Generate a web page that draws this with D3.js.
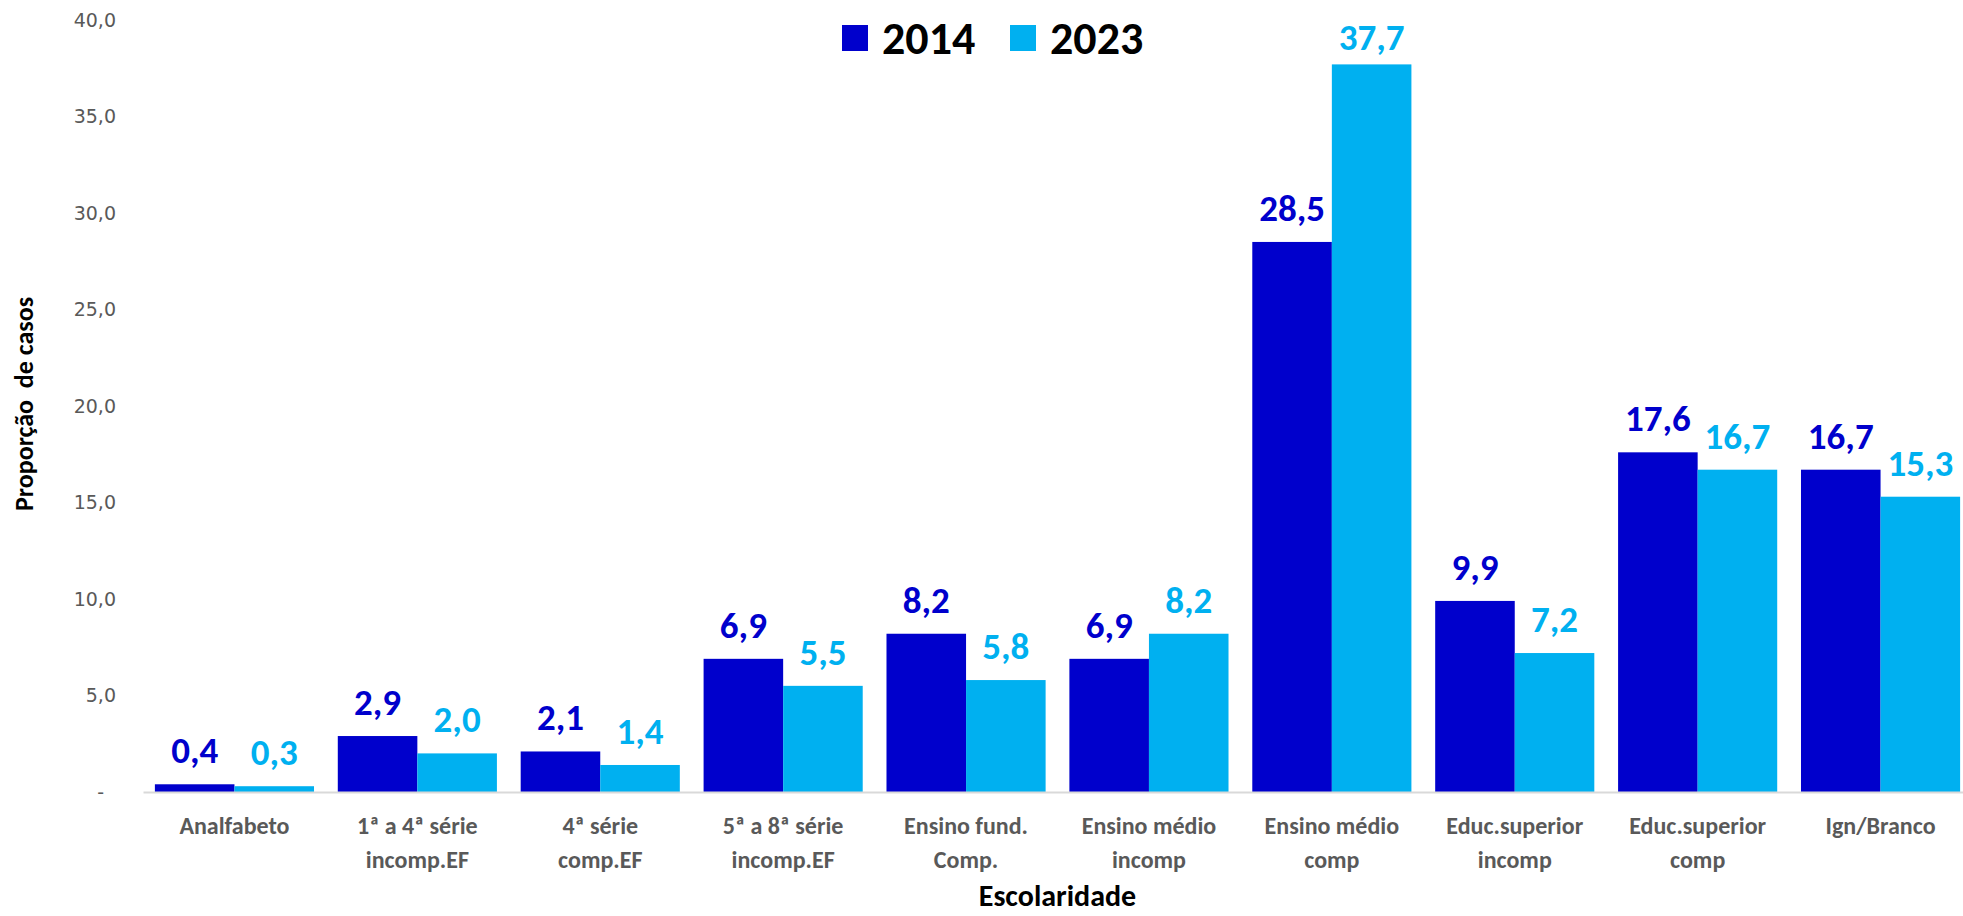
<!DOCTYPE html>
<html>
	<head>
		<meta charset="utf-8">
		<script type="text/javascript" src="https://d3js.org/d3.v7.min.js"></script>
		<style type="text/css">
			body {
				margin: 0;
				background: #ffffff;
			}
			.ytick text {
				font-family: "DejaVu Sans", Verdana, sans-serif;
				font-size: 19px;
				fill: #595959;
			}
			.xtick text {
				font-family: Carlito, Calibri, Lato, sans-serif;
				font-weight: bold;
				font-size: 24px;
				fill: #595959;
			}
			.title {
				font-family: Carlito, Calibri, Lato, sans-serif;
				font-weight: bold;
				fill: #000000;
			}
			.vlabel {
				font-family: Carlito, Calibri, Lato, sans-serif;
				font-weight: bold;
				font-size: 37px;
			}
		</style>
	</head>
	<body>
		<script type="text/javascript">
			// categories (line breaks marked with |)
			var categories = ["Analfabeto", "1ª a 4ª série|incomp.EF", "4ª série|comp.EF", "5ª a 8ª série|incomp.EF",
				"Ensino fund.|Comp.", "Ensino médio|incomp", "Ensino médio|comp", "Educ.superior|incomp",
				"Educ.superior|comp", "Ign/Branco"];
			var series = ["2014", "2023"];
			var values2014 = [0.4, 2.9, 2.1, 6.9, 8.2, 6.9, 28.5, 9.9, 17.6, 16.7];
			var values2023 = [0.3, 2.0, 1.4, 5.5, 5.8, 8.2, 37.7, 7.2, 16.7, 15.3];
			var yTicks = [0, 5, 10, 15, 20, 25, 30, 35, 40];
			var colors = ["#0000cc", "#00b0f0"];

			var width = 1963;
			var height = 916;

			var svg = d3.select("body")
				.append("svg")
				.attr("width", width)
				.attr("height", height)
				.attr("xmlns", "http://www.w3.org/2000/svg")
				.attr("version", "1.1");

			var x = d3.scaleBand()
				.domain(categories)
				.range([143, 1972])
				.paddingInner(0.13)
				.paddingOuter(0.065);

			var xs = d3.scaleBand()
				.domain(series)
				.range([0, x.bandwidth()]);

			var y = d3.scaleLinear()
				.domain([0, 40])
				.range([792, 20]);

			var color = d3.scaleOrdinal()
				.domain(series)
				.range(colors);

			var fmt = function(v) {
				return d3.format(".1f")(v).replace(".", ",");
			};

			// table built from the arrays
			var rows = categories.map(function(c, i) {
				return {cat: c, vals: [
					{key: "2014", v: values2014[i]},
					{key: "2023", v: values2023[i]}
				]};
			});

			/*
			* y axis (no line, no ticks)
			*/
			var yAxis = svg.append("g")
				.attr("class", "ytick")
				.attr("transform", "translate(116,0)")
				.call(d3.axisLeft(y)
					.tickValues(yTicks)
					.tickSize(0)
					.tickPadding(0)
					.tickFormat(function(d) { return d == 0 ? "-" : fmt(d); }));
			yAxis.select(".domain").remove();
			yAxis.selectAll("text")
				.attr("dx", function(d) { return d == 0 ? -12 : 0; });

			/*
			* bars
			*/
			var groups = svg.selectAll("g.cat")
				.data(rows)
				.enter()
				.append("g")
				.attr("class", "cat")
				.attr("transform", function(d) { return "translate(" + x(d.cat) + ",0)"; });

			groups.selectAll("rect")
				.data(function(d) { return d.vals; })
				.enter()
				.append("rect")
				.attr("x", function(d) { return xs(d.key); })
				.attr("y", function(d) { return y(d.v); })
				.attr("width", xs.bandwidth())
				.attr("height", function(d) { return y(0) - y(d.v); })
				.attr("fill", function(d) { return color(d.key); });

			// labels above bars; the tallest one is squeezed under the top edge
			groups.selectAll("text")
				.data(function(d) { return d.vals; })
				.enter()
				.append("text")
				.attr("class", "vlabel")
				.attr("x", function(d) { return xs(d.key) + xs.bandwidth() / 2; })
				.attr("y", function(d) { return Math.max(y(d.v) - 21, 50); })
				.attr("text-anchor", "middle")
				.attr("fill", function(d) { return color(d.key); })
				.text(function(d) { return fmt(d.v); });

			/*
			* x axis
			*/
			var xAxis = svg.append("g")
				.attr("class", "xtick")
				.attr("transform", "translate(0," + y(0) + ")")
				.call(d3.axisBottom(x).tickSize(0).tickFormat(""));
			xAxis.select(".domain")
				.attr("stroke", "#d9d9d9")
				.attr("stroke-width", 2);

			xAxis.selectAll(".tick text").each(function(d) {
				var t = d3.select(this);
				var lines = d.split("|");
				t.attr("y", 0).attr("dy", null);
				lines.forEach(function(line, i) {
					t.append("tspan")
						.attr("x", 0)
						.attr("y", 42 + i * 34)
						.text(line);
				});
			});

			// axis titles
			svg.append("text")
				.attr("class", "title")
				.attr("x", x(categories[5]) - x.step() * 0.065)
				.attr("y", 906)
				.attr("text-anchor", "middle")
				.attr("font-size", 30)
				.text("Escolaridade");

			svg.append("text")
				.attr("class", "title")
				.attr("transform", "translate(33,404) rotate(-90)")
				.attr("text-anchor", "middle")
				.attr("font-size", 26)
				.style("white-space", "pre")
				.text("Proporção  de casos");

			/*
			* legend
			*/
			var legend = svg.selectAll("g.legend")
				.data(series)
				.enter()
				.append("g")
				.attr("class", "legend")
				.attr("transform", function(d, i) { return "translate(" + (842 + i * 168) + ",25)"; });

			legend.append("rect")
				.attr("width", 26)
				.attr("height", 26)
				.attr("fill", function(d) { return color(d); });

			legend.append("text")
				.attr("class", "title")
				.attr("x", 40)
				.attr("y", 29)
				.attr("font-size", 46)
				.text(function(d) { return d; });
		</script>
	</body>
</html>
